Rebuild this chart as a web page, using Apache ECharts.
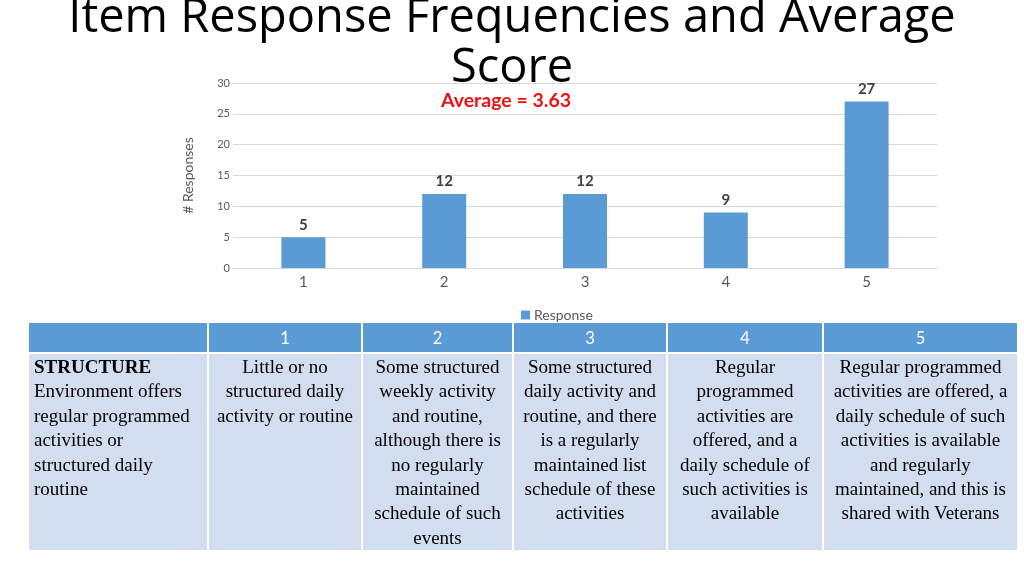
<!DOCTYPE html>
<html>
<head>
<meta charset="utf-8">
<script src="https://cdn.jsdelivr.net/npm/echarts@6/dist/echarts.min.js"></script>
<style>
  html, body { margin: 0; padding: 0; background: #fff; overflow: hidden; }
  #chart { position: absolute; left: 0; top: 0; width: 1024px; height: 575px; }
  #scale { position: absolute; left: 29px; top: 323px; width: 988px; border-collapse: collapse; table-layout: fixed; }
  #scale th { background: #5B9BD5; color: #fff; font-family: Lato, sans-serif; font-weight: normal;
              font-size: 16.5px; height: 29px; padding: 0; border: 2px solid #fff; border-top: 0; }
  #scale td { background: #D2DEEF; font-family: "Liberation Serif", serif; font-size: 19px; line-height: 24.4px;
              vertical-align: top; text-align: center; padding: 1px 0 0 0; height: 195px; border: 2px solid #fff;
              border-bottom: 0; white-space: nowrap; color: #000; overflow: hidden; }
  #scale td.first { text-align: left; padding-left: 5px; }
  #scale tr > :first-child { border-left: 0; }
  #scale tr > :last-child { border-right: 0; }
</style>
</head>
<body>
<div id="chart"></div>
<table id="scale"></table>
<script>
const categories = ['1', '2', '3', '4', '5'];
const responses = [5, 12, 12, 9, 27];
const averageScore = '3.63';
const yTicks = { min: 0, max: 30, interval: 5 };

const colWidths = [179, 154, 151, 154, 156, 194];
const itemTitle = 'STRUCTURE';
const itemLines = ['Environment offers', 'regular programmed', 'activities or', 'structured daily', 'routine'];
const anchorLines = [
    ['Little or no', 'structured daily', 'activity or routine'],
    ['Some structured', 'weekly activity', 'and routine,', 'although there is', 'no regularly', 'maintained', 'schedule of such', 'events'],
    ['Some structured', 'daily activity and', 'routine, and there', 'is a regularly', 'maintained list', 'schedule of these', 'activities'],
    ['Regular', 'programmed', 'activities are', 'offered, and a', 'daily schedule of', 'such activities is', 'available'],
    ['Regular programmed', 'activities are offered, a', 'daily schedule of such', 'activities is available', 'and regularly', 'maintained, and this is', 'shared with Veterans']
];

//-- the rating table under the chart
let cols = '<colgroup>';
colWidths.forEach(function (w) { cols += '<col style="width:' + w + 'px">'; });
cols += '</colgroup>';
let head = '<tr><th></th>';
categories.forEach(function (c) {
    head += '<th>' + c + '</th>';
});
head += '</tr>';
let row = '<tr><td class="first"><b>' + itemTitle + '</b><br>' + itemLines.join('<br>') + '</td>';
anchorLines.forEach(function (lines) {
    row += '<td>' + lines.join('<br>') + '</td>';
});
row += '</tr>';
document.getElementById('scale').innerHTML = cols + head + row;

const axisFont = 'Lato, "Liberation Sans", sans-serif';
const myChart = echarts.init(document.getElementById('chart'));
const option = {
    animation: false,
    title: {
        text: 'Item Response Frequencies and Average\nScore',
        left: 'center',
        top: -11,
        textStyle: { fontFamily: '"Open Sans", sans-serif', fontSize: 47, fontWeight: 'normal', color: '#000', lineHeight: 50 }
    },
    graphic: [{
        type: 'text',
        left: 441,
        top: 91,
        style: { text: 'Average = ' + averageScore, fill: '#EE1111', font: 'bold 19.5px ' + axisFont }
    }],
    legend: {
        data: [{ name: 'Response', icon: 'rect' }],
        left: 516,
        top: 303,
        itemWidth: 9,
        itemHeight: 9,
        itemGap: 4,
        textStyle: { fontFamily: axisFont, fontSize: 14, color: '#595959', padding: [0, 0, 0, -1] }
    },
    grid: { left: 233, right: 87, top: 83, bottom: 307 },
    xAxis: {
        type: 'category',
        data: categories,
        axisLine: { lineStyle: { color: '#D9D9D9' } },
        axisTick: { show: false },
        axisLabel: { fontFamily: axisFont, fontSize: 15, color: '#595959', margin: 7 }
    },
    yAxis: {
        type: 'value',
        min: yTicks.min,
        max: yTicks.max,
        interval: yTicks.interval,
        name: '# Responses',
        nameLocation: 'middle',
        nameRotate: 90,
        nameGap: 38,
        nameTextStyle: { fontFamily: axisFont, fontSize: 14, color: '#595959' },
        axisLine: { show: false },
        axisTick: { show: false },
        axisLabel: { fontFamily: axisFont, fontSize: 11, color: '#595959', margin: 3 },
        splitLine: { lineStyle: { color: '#D9D9D9' } }
    },
    series: [{
        name: 'Response',
        type: 'bar',
        data: responses,
        barWidth: 44,
        itemStyle: { color: '#5B9BD5' },
        label: { show: true, position: 'top', distance: 5, fontFamily: axisFont, fontSize: 15, fontWeight: 'bold', color: '#404040' }
    }]
};
myChart.setOption(option);
</script>
</body>
</html>
